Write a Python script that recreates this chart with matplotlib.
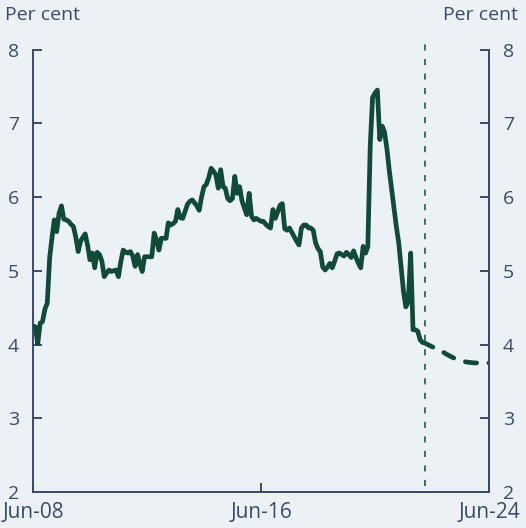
import pandas as pd
import matplotlib
matplotlib.use("Agg")
import matplotlib.pyplot as plt
import matplotlib.dates as mdates

plt.rcParams['font.family'] = ['Open Sans', 'DejaVu Sans']

# monthly history from Jun-08 to Feb-22 (per cent)
actual = [
    4.25, 4.24, 4.01, 4.29, 4.31, 4.48, 4.56, 5.18, 5.46, 5.69,
    5.53, 5.78, 5.88, 5.70, 5.69, 5.67, 5.63, 5.60, 5.46, 5.26,
    5.40, 5.45, 5.50, 5.35, 5.15, 5.24, 5.04, 5.25, 5.22, 5.13,
    4.92, 4.97, 5.01, 4.99, 5.00, 5.01, 4.92, 5.12, 5.28, 5.25,
    5.24, 5.26, 5.20, 5.06, 5.22, 5.10, 4.99, 5.19, 5.19, 5.19,
    5.19, 5.51, 5.42, 5.28, 5.44, 5.44, 5.44, 5.65, 5.62, 5.64,
    5.67, 5.83, 5.72, 5.71, 5.80, 5.90, 5.94, 5.96, 5.92, 5.88,
    5.82, 6.00, 6.14, 6.17, 6.26, 6.39, 6.35, 6.30, 6.12, 6.37,
    6.14, 6.12, 5.98, 5.95, 5.98, 6.28, 6.05, 6.14, 5.95, 5.85,
    5.76, 6.05, 5.74, 5.69, 5.71, 5.69, 5.67, 5.67, 5.63, 5.60,
    5.58, 5.83, 5.71, 5.80, 5.89, 5.91, 5.57, 5.55, 5.58, 5.52,
    5.46, 5.40, 5.35, 5.58, 5.62, 5.62, 5.58, 5.58, 5.55, 5.38,
    5.30, 5.26, 5.05, 5.01, 5.05, 5.10, 5.04, 5.13, 5.23, 5.24,
    5.22, 5.20, 5.25, 5.22, 5.18, 5.27, 5.18, 5.10, 5.04, 5.33,
    5.24, 5.33, 6.70, 7.35, 7.41, 7.45, 6.78, 6.96, 6.88, 6.65,
    6.36, 6.10, 5.85, 5.60, 5.38, 5.05, 4.72, 4.51, 4.58, 5.24,
    4.20, 4.20, 4.18, 4.06, 4.03,
]
actual_dates = pd.date_range("2008-06-01", periods=len(actual), freq="MS")

# forecast, quarterly from the last observation
fc_dates = pd.to_datetime(["2022-02-01", "2022-03-01", "2022-06-01", "2022-09-01",
                           "2022-12-01", "2023-03-01", "2023-06-01", "2023-09-01",
                           "2023-12-01", "2024-03-01", "2024-06-01"])
fc_values = [4.03, 4.02, 3.97, 3.93, 3.87, 3.82, 3.78, 3.76, 3.75, 3.75, 3.75]

forecast_start = pd.Timestamp("2022-03-01")

bg = "#ECF1F6"
green = "#124A3A"
ink = "#3B4A68"

fig = plt.figure(figsize=(5.26, 5.28), dpi=100, facecolor=bg)
ax = fig.add_axes([0.0627, 0.0682, 0.867, 0.838])
ax.set_facecolor(bg)

ax.plot(actual_dates, actual, color=green, lw=3.4, solid_joinstyle="round",
        solid_capstyle="round", zorder=3)
ax.plot(fc_dates, fc_values, color=green, lw=3.4, dashes=(2.4, 2.6),
        dash_capstyle="round", zorder=3)
ax.axvline(forecast_start, ymin=0.013, ymax=1.02, color=green, lw=1.1,
           dashes=(4, 5.5), clip_on=False, zorder=2)

ax.set_xlim(pd.Timestamp("2008-06-01"), pd.Timestamp("2024-06-01"))
ax.set_ylim(2, 8)
ax.set_yticks(range(2, 9))
ax.set_xticks(pd.to_datetime(["2008-06-01", "2016-06-01", "2024-06-01"]))
ax.xaxis.set_major_formatter(mdates.DateFormatter("%b-%y"))

ax2 = ax.twinx()
ax2.set_ylim(2, 8)
ax2.set_yticks(range(2, 9))

for a in (ax, ax2):
    a.spines["top"].set_visible(False)
    for s in ("left", "right", "bottom"):
        a.spines[s].set_color(ink)
        a.spines[s].set_linewidth(1.4)
    a.tick_params(direction="in", length=6.5, width=1.4, color=ink,
                  labelcolor=ink, labelsize=14, pad=10)
ax.tick_params(axis="x", pad=7, labelsize=15)
ax2.spines["left"].set_visible(False)

fig.text(0.010, 0.972, "Per cent", color=ink, fontsize=14, ha="left", va="center")
fig.text(0.985, 0.972, "Per cent", color=ink, fontsize=14, ha="right", va="center")

fig.savefig("out.png", dpi=100, facecolor=bg)
